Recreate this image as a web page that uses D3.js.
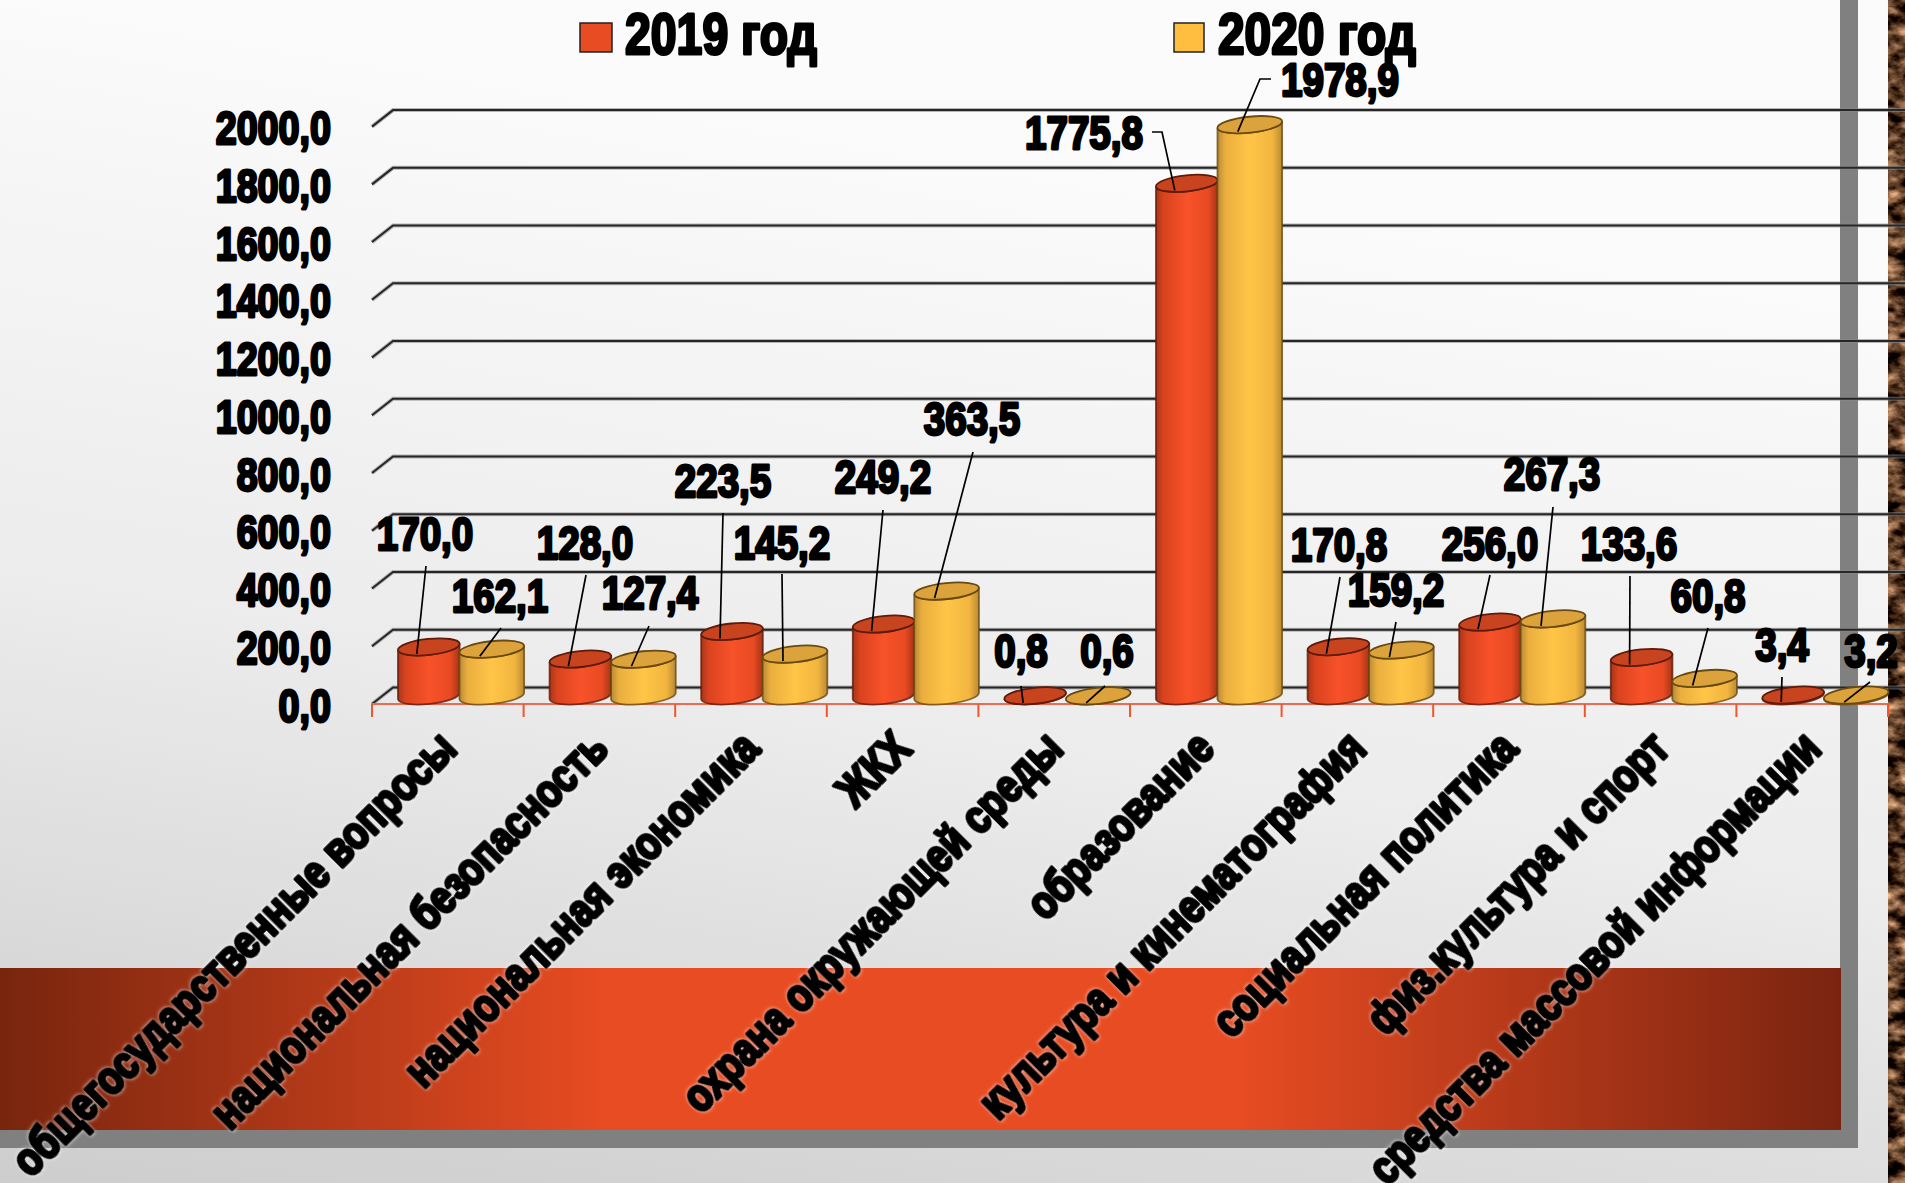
<!DOCTYPE html>
<html><head><meta charset="utf-8">
<script src="https://cdnjs.cloudflare.com/ajax/libs/d3/7.8.5/d3.min.js"></script>
<style>html,body{margin:0;padding:0;overflow:hidden;background:#eee}svg{display:block}
text{font-family:"Liberation Sans",sans-serif;font-weight:700;fill:#000;stroke:#000;stroke-linejoin:round}</style>
</head><body><svg id="c" width="1905" height="1183"></svg>
<script>
const categories=['общегосударственные вопросы','национальная безопасность','национальная экономика','ЖКХ','охрана окружающей среды','образование','культура и кинематография','социальная политика','физ.культура и спорт','средства массовой информации'];
const seriesNames=['2019 год','2020 год'];
const values2019=[170.0,128.0,223.5,249.2,0.8,1775.8,170.8,256.0,133.6,3.4];
const values2020=[162.1,127.4,145.2,363.5,0.6,1978.9,159.2,267.3,60.8,3.2];
const yTicks=[0,200,400,600,800,1000,1200,1400,1600,1800,2000];
// hand placed label centres and leader starts (annotation layout)
const labels2019=[[425,533,426,566],[585,542,586,575],[723,480,723,513],[883,476,883,510],[1021,650,1021,686],[1084,132,1152,132],[1339,544,1340,577],[1490,543,1490,575],[1629,543,1630,576],[1782,644,1782,677]];
const labels2020=[[500,595,501,628],[650,592,649,626],[782,542,782,574],[972,418,973,452],[1107,650,1105,686],[1340,79,1271,79],[1396,589,1396,622],[1552,473,1553,507],[1708,595,1708,628],[1871,650,1870,682]];

const svg=d3.select('#c');
const defs=svg.append('defs');
const fmt=v=>d3.format('.1f')(v).replace('.',',');
const sx=.82;

function grad(id,stops,attrs){const g=defs.append('linearGradient').attr('id',id);
 Object.entries(attrs).forEach(([k,v])=>g.attr(k,v));
 stops.forEach(s=>g.append('stop').attr('offset',s[0]).attr('stop-color',s[1]));}
grad('bg',[[0,'#fbfbfb'],[.5,'#ececec'],[1,'#cdcdcd']],{gradientUnits:'userSpaceOnUse',x1:200,y1:0,x2:0,y2:1183});
grad('band',[[0,'#78250e'],[.33,'#e84c22'],[.67,'#e84c22'],[1,'#7a2410']],{x1:0,x2:1,y1:0,y2:0});
grad('c0',[[0,'#a8361a'],[.12,'#d8431e'],[.5,'#f8522a'],[.85,'#e84a22'],[1,'#a63416']],{x1:0,x2:1,y1:0,y2:0});
grad('c1',[[0,'#b98a35'],[.12,'#eaae3e'],[.5,'#ffc547'],[.85,'#f2b53f'],[1,'#b98a35']],{x1:0,x2:1,y1:0,y2:0});

const tex=defs.append('filter').attr('id','tex').attr('x',0).attr('y',0).attr('width',1).attr('height',1).attr('color-interpolation-filters','sRGB');
tex.append('feTurbulence').attr('type','fractalNoise').attr('baseFrequency','0.05 0.08').attr('numOctaves',4).attr('seed',7);
tex.append('feColorMatrix').attr('values','1.6 0 0 0 -0.45  1.3 0 0 0 -0.42  1.05 0 0 0 -0.38  0 0 0 0 1');

svg.append('rect').attr('width',1905).attr('height',1183).attr('fill','url(#bg)');
svg.append('rect').attr('x',1888).attr('width',17).attr('height',1183).attr('filter','url(#tex)');
// slide frame
svg.append('path').attr('d','M1840 0H1858V1148H0V1130H1840Z').attr('fill','#808080');
svg.append('rect').attr('x',0).attr('y',968).attr('width',1841).attr('height',162).attr('fill','url(#band)');

const x0=372,x1=1888,depthX=21,ry=8,tilt=6;
const x=d3.scaleBand().domain(categories).range([x0,x1]);
const y=d3.scaleLinear().domain([0,2000]).range([696,118.6]);
const backY=v=>y(v)-8.5, frontY=v=>y(v)+8;

// grid lines with wall perspective
const grid=svg.append('g');
[['#8a8a8a',4,.6],['#262626',2,1]].forEach(([c,w,o])=>{
 grid.selectAll(null).data(yTicks).join('path')
  .attr('d',v=>`M${x0} ${frontY(v)}L${x0+depthX} ${backY(v)}H1905`)
  .attr('fill','none').attr('stroke',c).attr('stroke-width',w).attr('opacity',o);
});
// y tick labels
svg.append('g').selectAll('text').data(yTicks).join('text')
 .attr('transform',v=>`translate(331,${frontY(v)+1}) scale(${sx},1)`).attr('dy','.36em').attr('text-anchor','end')
 .attr('font-size',46).attr('stroke-width',2.8).text(fmt);

// x axis
svg.append('line').attr('x1',x0).attr('x2',x1).attr('y1',frontY(0)).attr('y2',frontY(0)).attr('stroke','#ee6a50').attr('stroke-width',2.2);
svg.append('g').selectAll('line').data(categories.concat([null])).join('line')
 .attr('x1',d=>d===null?x1:x(d)).attr('x2',d=>d===null?x1:x(d))
 .attr('y1',frontY(0)).attr('y2',frontY(0)+13).attr('stroke','#f0562c').attr('stroke-width',2);

// cylinders
const series=[{vals:values2019,fill:'url(#c0)',top:'#c8441f',line:'#5e1a0a',off:-30,rx:31,lab:labels2019},
              {vals:values2020,fill:'url(#c1)',top:'#dca33c',line:'#6a4a10',off:33,rx:32.5,lab:labels2020}];
const rad=tilt*Math.PI/180;
series.forEach(s=>{
 const rx=s.rx, ex=rx*Math.cos(rad), ey=rx*Math.sin(rad);
 const g=svg.append('g').selectAll('g').data(categories).join('g');
 const cx=c=>x(c)+x.bandwidth()/2+11+s.off;
 const val=(c,i)=>s.vals[i];
 g.append('path').attr('d',(c,i)=>{const t=y(val(c,i)),b=y(0),X=cx(c);
   return `M${X-ex} ${t+ey}L${X-ex} ${b+ey}A${rx} ${ry} ${-tilt} 0 0 ${X+ex} ${b-ey}L${X+ex} ${t-ey}A${rx} ${ry} ${-tilt} 0 1 ${X-ex} ${t+ey}Z`;})
  .attr('fill',s.fill).attr('stroke',s.line).attr('stroke-width',1.8).attr('stroke-opacity',.8);
 g.append('ellipse').attr('cx',cx).attr('cy',(c,i)=>y(val(c,i))).attr('rx',rx).attr('ry',ry)
  .attr('transform',(c,i)=>`rotate(${-tilt} ${cx(c)} ${y(val(c,i))})`)
  .attr('fill',s.top).attr('stroke',s.line).attr('stroke-width',1.8);
});
// data labels with leader lines (drawn above all bars)
series.forEach(s=>{
 const cx=i=>x(categories[i])+x.bandwidth()/2+11+s.off;
 const g=svg.append('g');
 g.selectAll('path').data(s.vals).join('path').attr('fill','none').attr('stroke','#000').attr('stroke-width',1.7)
  .attr('d',(v,i)=>{const l=s.lab[i];const ex2=cx(i)-12,ey2=y(v)+7;
    const elbow=(i===5)?`L${l[2]+(s.off<0?10:-11)} ${l[3]}`:'';
    return `M${l[2]} ${l[3]}${elbow}L${ex2} ${ey2}`;});
 g.selectAll('text').data(s.vals).join('text')
  .attr('transform',(v,i)=>`translate(${s.lab[i][0]},${s.lab[i][1]}) scale(.84,1)`)
  .attr('dy','.36em').attr('text-anchor','middle').attr('font-size',46).attr('stroke-width',2.8).text(fmt);
});
// category labels
svg.append('g').selectAll('text').data(categories).join('text')
 .attr('transform',c=>`translate(${x(c)+x.bandwidth()/2-1},739) rotate(-45) scale(${sx},1)`)
 .attr('dy','.36em').attr('text-anchor','end').attr('font-size',46).attr('stroke-width',3.4)
 .style('filter','drop-shadow(0 0 2px rgba(255,255,255,.85))').text(c=>c);
// legend
const lg=svg.append('g');
[[580,32,625,'#e84c22',.8],[1174,30,1218,'#ffbe40',.825]].forEach((l,i)=>{
 lg.append('rect').attr('x',l[0]).attr('y',23).attr('width',l[1]).attr('height',29).attr('fill',l[3]).attr('stroke','#222').attr('stroke-width',1.5);
 lg.append('text').attr('transform',`translate(${l[2]},54) scale(${l[4]},1)`).attr('font-size',58).attr('stroke-width',3).text(seriesNames[i]);
});
</script></body></html>
